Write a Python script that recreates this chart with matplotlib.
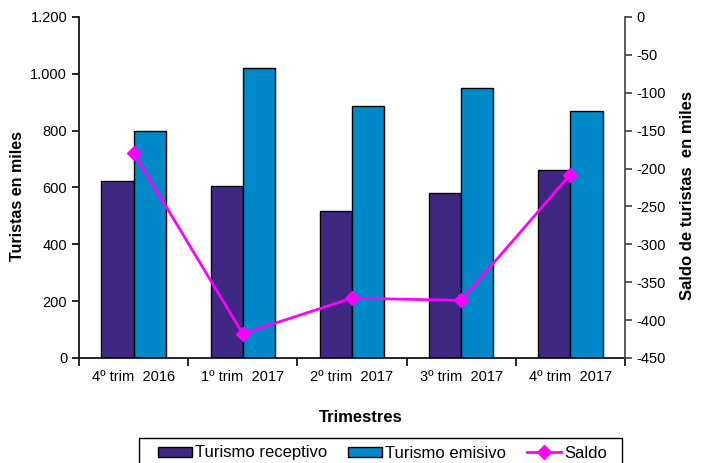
import numpy as np
import matplotlib.pyplot as plt
from matplotlib.patches import Rectangle
from matplotlib.ticker import FuncFormatter, MultipleLocator

# data
trimestres = ['4º trim  2016', '1º trim  2017', '2º trim  2017', '3º trim  2017', '4º trim  2017']
receptivo = [623, 606, 517, 579, 661]
emisivo = [800, 1020, 886, 950, 868]
saldo = [-179, -418, -371, -374, -208]

col_rec = '#3F2882'
col_emi = '#0088C8'
col_saldo = '#FF00FF'

plt.rcParams['font.family'] = ['Liberation Sans', 'DejaVu Sans']
plt.rcParams['axes.unicode_minus'] = False

fig = plt.figure(figsize=(7.03, 4.63), dpi=100)
ax = fig.add_axes([0.1124, 0.2268, 0.7765, 0.7365])

x = np.arange(len(trimestres))
w = 0.295
ax.bar(x - w / 2, receptivo, w, color=col_rec, edgecolor='black', linewidth=1,
       label='Turismo receptivo')
ax.bar(x + w / 2, emisivo, w, color=col_emi, edgecolor='black', linewidth=1,
       label='Turismo emisivo')

ax.set_xlim(-0.5, len(trimestres) - 0.5)
ax.set_ylim(0, 1200)
ax.yaxis.set_major_locator(MultipleLocator(200))
ax.yaxis.set_major_formatter(FuncFormatter(lambda v, p: f'{int(v):,}'.replace(',', '.')))
ax.set_xticks(np.arange(-0.5, len(trimestres)), labels=[''] * (len(trimestres) + 1))
ax.set_xticks(x, labels=trimestres, minor=True)
ax.tick_params(axis='x', which='major', direction='out', length=6, width=1.2)
ax.tick_params(axis='x', which='minor', length=0, labelsize=10.5, pad=9)
ax.tick_params(axis='y', direction='out', length=5, width=1.2, labelsize=10.5)
for s in ['top', 'right']:
    ax.spines[s].set_visible(False)
ax.spines['left'].set_linewidth(1.2)
ax.spines['bottom'].set_linewidth(1.2)

ax2 = ax.twinx()
ax2.plot(x, saldo, color=col_saldo, linewidth=2, marker='D', markersize=7,
         label='Saldo')
ax2.set_ylim(-450, 0)
ax2.yaxis.set_major_locator(MultipleLocator(50))
ax2.tick_params(axis='y', direction='out', length=5, width=1.2, labelsize=10.5,
                color='#404040', pad=3)
for s in ['top', 'left', 'bottom']:
    ax2.spines[s].set_visible(False)
ax2.spines['right'].set_linewidth(1.2)
ax2.spines['right'].set_color('#404040')

# axis titles placed like the reference
fig.text(18 / 703, 1 - 196 / 463, 'Turistas en miles', rotation=90,
         ha='center', va='center', fontweight='bold', fontsize=11.5)
fig.text(688 / 703, 1 - 196 / 463, 'Saldo de turistas  en miles', rotation=90,
         ha='center', va='center', fontweight='bold', fontsize=12)
fig.text(361 / 703, 1 - 418 / 463, 'Trimestres', ha='center', va='center',
         fontweight='bold', fontsize=12)

# legend (frame drawn separately, runs off the bottom edge as in the reference)
h1, l1 = ax.get_legend_handles_labels()
h2, l2 = ax2.get_legend_handles_labels()
leg = fig.legend(h1 + h2, l1 + l2, loc='center', bbox_to_anchor=(382.5 / 703, 1 - 453 / 463),
                 ncol=3, frameon=False, fontsize=12, handlelength=2.05,
                 handleheight=0.55, handletextpad=0.18, columnspacing=1.25,
                 borderpad=0, borderaxespad=0)
fig.patches.append(Rectangle((139 / 703, -0.05), (622 - 139) / 703, 1 - 438 / 463 + 0.05,
                             transform=fig.transFigure, fill=False,
                             edgecolor='black', linewidth=1))

fig.savefig('out.png', dpi=100)
